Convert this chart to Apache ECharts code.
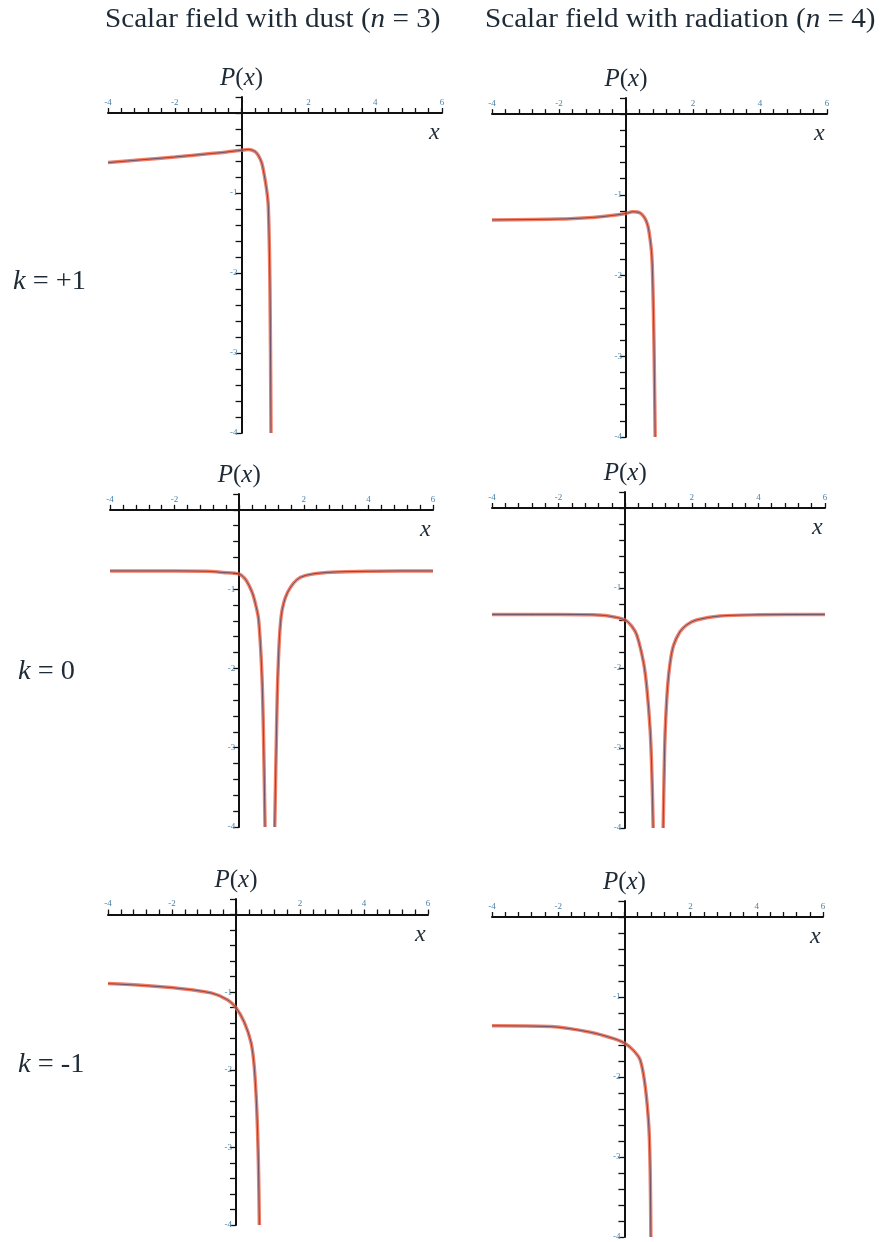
<!DOCTYPE html>
<html>
<head>
<meta charset="utf-8">
<title>P(x)</title>
<script src="https://cdn.jsdelivr.net/npm/echarts@6/dist/echarts.min.js"></script>
<style>
html, body { margin: 0; padding: 0; background: #fff; }
#chart { width: 885px; height: 1242px; }
</style>
</head>
<body>
<div id="chart"></div>
<script>
"use strict";

// axis ranges and tick labels
var xMin = -4, xMax = 6;
var yMin = -4, yMax = 0.2;
var xLabelValues = [-4, -2, 2, 4, 6];
var yLabelValues = [-1, -2, -3, -4];

// dust (n = 3), k = +1
var dustK1X = [-4, -3, -2, -1, -0.5, 0, 0.2, 0.4, 0.5, 0.6, 0.65, 0.75, 0.8, 0.85, 0.88];
var dustK1P = [-0.62, -0.585, -0.55, -0.51, -0.49, -0.465, -0.455, -0.48, -0.53, -0.62, -0.71, -0.96, -1.17, -2.2, -4.0];

// radiation (n = 4), k = +1
var radK1X = [-4, -2, -1, -0.5, 0, 0.2, 0.4, 0.55, 0.65, 0.72, 0.77, 0.8, 0.83, 0.85, 0.87];
var radK1P = [-1.31, -1.30, -1.28, -1.26, -1.23, -1.21, -1.22, -1.28, -1.38, -1.55, -1.75, -2.1, -2.7, -3.3, -4.0];

// dust, k = 0 (two branches)
var dustK0LeftX = [-4, -3, -2, -1, -0.5, 0, 0.2, 0.4, 0.5, 0.6, 0.7, 0.75, 0.8];
var dustK0LeftP = [-0.77, -0.77, -0.77, -0.775, -0.79, -0.81, -0.88, -1.04, -1.18, -1.38, -2.05, -2.8, -4.0];
var dustK0RightX = [1.1, 1.15, 1.2, 1.3, 1.5, 1.9, 2.7, 4, 5, 6];
var dustK0RightP = [-4.0, -2.9, -2.05, -1.34, -1.04, -0.85, -0.79, -0.775, -0.77, -0.77];

// radiation, k = 0 (two branches)
var radK0LeftX = [-4, -2, -1, -0.5, 0, 0.2, 0.35, 0.55, 0.65, 0.75, 0.8, 0.84];
var radK0LeftP = [-1.33, -1.33, -1.335, -1.35, -1.40, -1.48, -1.59, -1.93, -2.25, -2.78, -3.3, -4.0];
var radK0RightX = [1.14, 1.17, 1.2, 1.27, 1.35, 1.45, 1.64, 1.85, 2.14, 2.84, 4, 6];
var radK0RightP = [-4.0, -3.3, -2.8, -2.25, -1.93, -1.72, -1.55, -1.46, -1.40, -1.35, -1.335, -1.33];

// dust, k = -1
var dustKm1X = [-4, -2.86, -1.82, -0.78, -0.26, 0, 0.26, 0.47, 0.57, 0.65, 0.7, 0.73];
var dustKm1P = [-0.89, -0.915, -0.95, -1.01, -1.10, -1.20, -1.39, -1.65, -1.96, -2.52, -3.2, -4.0];

// radiation, k = -1
var radKm1X = [-4, -2.23, -1.03, -0.32, 0, 0.28, 0.48, 0.63, 0.74, 0.78, 0.8];
var radKm1P = [-1.36, -1.37, -1.44, -1.52, -1.575, -1.67, -1.79, -2.12, -2.63, -3.2, -4.0];

var SERIF = '"Liberation Serif", "DejaVu Serif", serif';
var INK = '#1e2a36';
var TICK_BLUE = '#4a82aa';

// grid boxes (px), one per panel
var panels = [
	{ left: 108, top: 97, width: 334, height: 336 },
	{ left: 492, top: 98, width: 335, height: 339 },
	{ left: 110, top: 494, width: 323, height: 333 },
	{ left: 492, top: 492, width: 333, height: 336 },
	{ left: 108, top: 899, width: 320, height: 326 },
	{ left: 492, top: 901, width: 331, height: 336 }
];

var curves = [
	[0, dustK1X, dustK1P],
	[1, radK1X, radK1P],
	[2, dustK0LeftX, dustK0LeftP],
	[2, dustK0RightX, dustK0RightP],
	[3, radK0LeftX, radK0LeftP],
	[3, radK0RightX, radK0RightP],
	[4, dustKm1X, dustKm1P],
	[5, radKm1X, radKm1P]
];

function isLabel(v, list) {
	for (var i = 0; i < list.length; i++) {
		if (Math.abs(v - list[i]) < 1e-6) return true;
	}
	return false;
}

var grids = [], xAxes = [], yAxes = [], series = [];

panels.forEach(function (p, i) {
	grids.push({
		left: p.left, top: p.top, width: p.width, height: p.height,
		outerBoundsMode: 'none'
	});
	// axes cross at the origin: shift them in from the grid edges
	var xOffset = -p.height * yMax / (yMax - yMin);
	var yOffset = -p.width * (0 - xMin) / (xMax - xMin);
	xAxes.push({
		type: 'value', gridIndex: i, position: 'top', offset: xOffset,
		min: xMin, max: xMax, interval: 0.4,
		name: '{i|x}',
		nameLocation: 'end',
		nameGap: -13,
		nameTextStyle: {
			verticalAlign: 'top', padding: [8, 0, 0, 0],
			fontFamily: SERIF, fontSize: 24, color: INK,
			rich: { i: { fontFamily: SERIF, fontSize: 24, fontStyle: 'italic', color: INK } }
		},
		axisLine: { onZero: false, lineStyle: { color: '#111', width: 2 } },
		axisTick: { inside: false, length: 5, lineStyle: { color: '#111', width: 1.3 } },
		axisLabel: {
			margin: 6, fontSize: 9, color: TICK_BLUE, fontFamily: SERIF,
			formatter: function (v) { return isLabel(v, xLabelValues) ? String(Math.round(v)) : ''; }
		},
		splitLine: { show: false }
	});
	yAxes.push({
		type: 'value', gridIndex: i, position: 'left', offset: yOffset,
		min: yMin, max: yMax, interval: 0.2,
		name: '{i|P}({i|x})',
		nameLocation: 'end',
		nameGap: 6,
		nameTextStyle: {
			fontFamily: SERIF, fontSize: 25, color: INK,
			rich: { i: { fontFamily: SERIF, fontSize: 25, fontStyle: 'italic', color: INK } }
		},
		axisLine: { onZero: false, lineStyle: { color: '#111', width: 2 } },
		axisTick: { inside: false, length: 6, lineStyle: { color: '#111', width: 1.3 } },
		axisLabel: {
			margin: 4, fontSize: 9, color: TICK_BLUE, fontFamily: SERIF,
			formatter: function (v) { return isLabel(v, yLabelValues) ? String(Math.round(v)) : ''; }
		},
		splitLine: { show: false }
	});
});

curves.forEach(function (c) {
	var pts = c[1].map(function (x, j) { return [x, c[2][j]]; });
	// thick red trace
	series.push({
		type: 'line', xAxisIndex: c[0], yAxisIndex: c[0],
		data: pts, symbol: 'none', smooth: 0.3, silent: true,
		lineStyle: { color: '#ef5f3f', width: 3.5, opacity: 0.8 }
	});
	// thin dark trace on top
	series.push({
		type: 'line', xAxisIndex: c[0], yAxisIndex: c[0],
		data: pts, symbol: 'none', smooth: 0.3, silent: true,
		lineStyle: { color: '#2d3f6e', width: 1, opacity: 0.7 }
	});
});

function label(x, y, txt, size, sx) {
	return {
		type: 'text', x: x, y: y, scaleX: sx || 1, silent: true,
		style: {
			text: txt, fill: INK, fontFamily: SERIF, fontSize: size,
			rich: { i: { fontFamily: SERIF, fontSize: size, fontStyle: 'italic', fill: INK } }
		}
	};
}

var chart = echarts.init(document.getElementById('chart'), null, { renderer: 'canvas' });
chart.setOption({
	animation: false,
	backgroundColor: '#fff',
	grid: grids,
	xAxis: xAxes,
	yAxis: yAxes,
	series: series,
	graphic: [
		label(105, 6, 'Scalar field with dust ({i|n} = 3)', 27, 1.08),
		label(485, 6, 'Scalar field with radiation ({i|n} = 4)', 27, 1.08),
		label(13, 268, '{i|k} = +1', 27, 1.05),
		label(18, 658, '{i|k} = 0', 27, 1.05),
		label(18, 1051, '{i|k} = -1', 27, 1.05)
	]
});
</script>
</body>
</html>
